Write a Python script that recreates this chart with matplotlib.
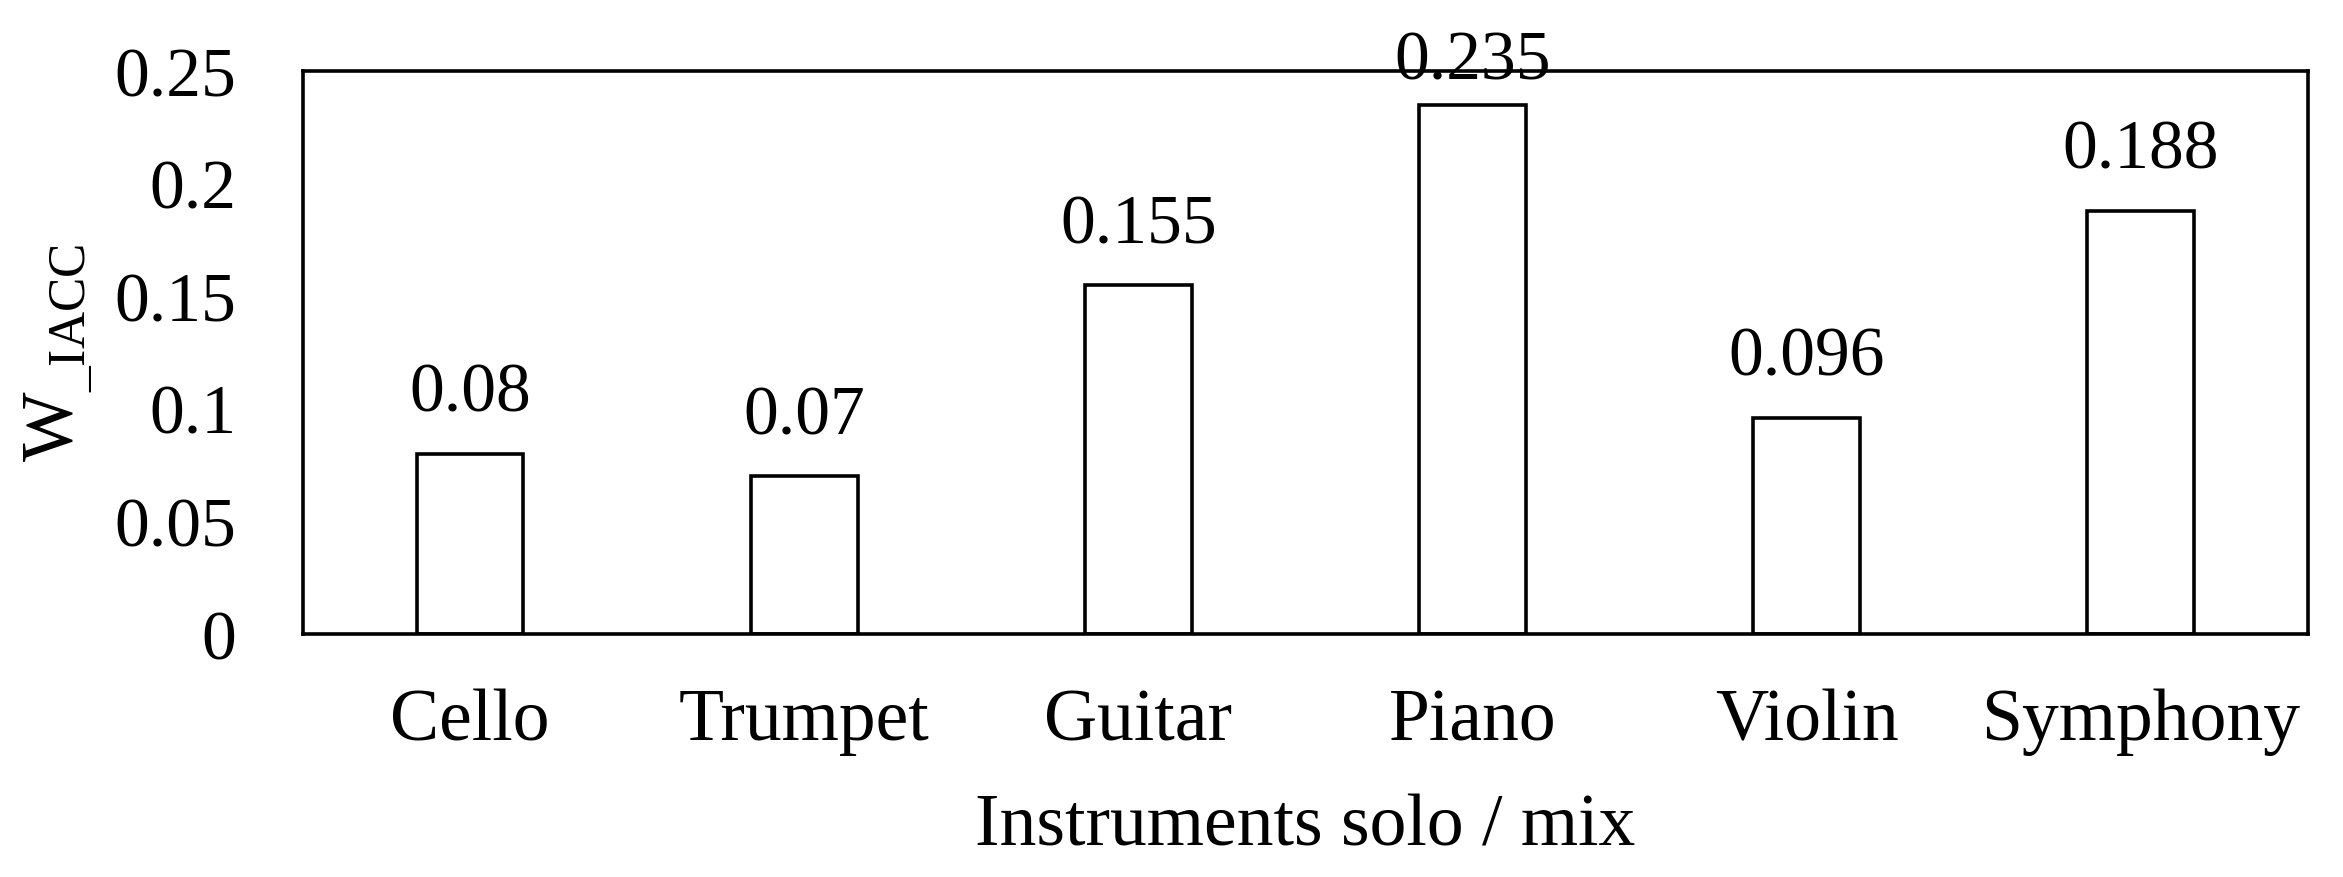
import matplotlib
matplotlib.use("Agg")
import matplotlib.pyplot as plt

# data
instruments = ["Cello", "Trumpet", "Guitar", "Piano", "Violin", "Symphony"]
w_iacc = [0.08, 0.07, 0.155, 0.235, 0.096, 0.188]
value_labels = ["0.08", "0.07", "0.155", "0.235", "0.096", "0.188"]
y_ticks = [0, 0.05, 0.1, 0.15, 0.2, 0.25]
y_tick_labels = ["0", "0.05", "0.1", "0.15", "0.2", "0.25"]

plt.rcParams["font.family"] = ["Liberation Serif", "DejaVu Serif"]
plt.rcParams["mathtext.fontset"] = "custom"
plt.rcParams["mathtext.rm"] = "Liberation Serif"

fig = plt.figure(figsize=(23.43, 8.78), dpi=100)
ax = fig.add_axes([0.1293, 0.277, 0.8557, 0.641])

x = range(len(instruments))
bars = ax.bar(x, w_iacc, width=0.32, facecolor="white", edgecolor="black", linewidth=2.6)

# labels sit a fixed distance above each bar, pushed down if they'd run off the top
for rect, lab in zip(bars, value_labels):
    y_lab = min(rect.get_height() + 0.019, 0.2465)
    ax.text(rect.get_x() + rect.get_width() / 2, y_lab, lab,
            ha="center", va="baseline", fontsize=50, clip_on=False)

ax.set_xlim(-0.5, len(instruments) - 0.5)
ax.set_ylim(0, 0.25)
ax.set_yticks(y_ticks)
ax.set_yticklabels(y_tick_labels)
ax.set_xticks(list(x))
ax.set_xticklabels(instruments)
ax.tick_params(axis="y", length=0, pad=48, labelsize=50)
ax.tick_params(axis="x", length=0, pad=39, labelsize=53)

for s in ax.spines.values():
    s.set_linewidth(2.6)

ax.set_xlabel("Instruments solo / mix", fontsize=53, labelpad=27)
ax.set_ylabel(r"W$_{\_\mathrm{IACC}}$", fontsize=53, labelpad=14)

fig.savefig("out.png", dpi=100)
